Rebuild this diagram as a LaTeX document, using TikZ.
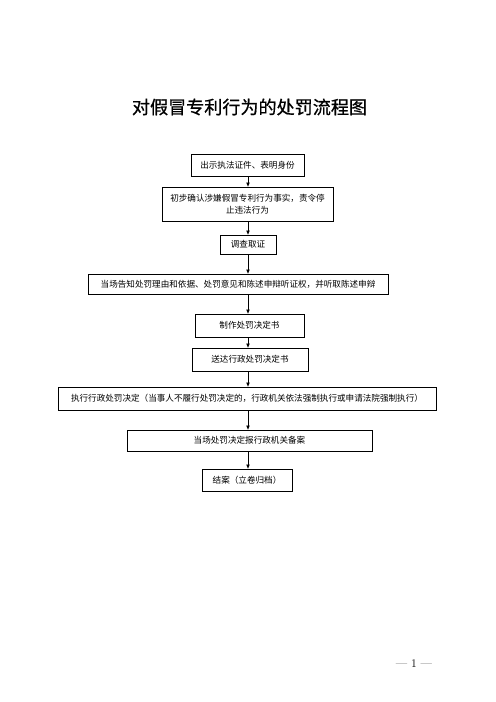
\documentclass[tikz,border=0pt]{standalone}
\usepackage{fontspec}
\newfontfamily\cjk{Noto Sans CJK SC}
\newfontfamily\cjktitle[FakeBold=0.6]{Noto Sans CJK SC}
\usetikzlibrary{arrows.meta}
\begin{document}
\begin{tikzpicture}[x=1.2pt,y=-1.2pt,
  box/.style={draw=black,line width=0.8pt,inner sep=1pt,font=\cjk\fontsize{10.3pt}{14pt}\selectfont,align=center},
  arr/.style={line width=0.8pt,-{Triangle[length=5pt,width=4pt]}}]
\useasboundingbox[fill=white] (0,0) rectangle (496,702);
\node[font=\cjktitle\fontsize{21.7pt}{26pt}\selectfont] (title) at (249.5,107) {对假冒专利行为的处罚流程图};
\coordinate (axis) at (248,0);
\node[box,minimum width=135.6pt,minimum height=26.4pt] (b1) at (247.5,165) {出示执法证件、表明身份};
\node[box,minimum width=205.2pt,minimum height=40.8pt,text width=190pt] (b2) at (247.5,204) {初步确认涉嫌假冒专利行为事实，责令停\\止违法行为};
\node[box,minimum width=67.2pt,minimum height=22.8pt] (b3) at (248,244.5) {调查取证};
\node[box,minimum width=360pt,minimum height=24pt] (b4) at (238,284) {当场告知处罚理由和依据、处罚意见和陈述申辩听证权，并听取陈述申辩};
\node[box,minimum width=130.8pt,minimum height=27.6pt] (b5) at (249.5,325.5) {制作处罚决定书};
\node[box,minimum width=139.2pt,minimum height=27.6pt] (b6) at (250,359.5) {送达行政处罚决定书};
\node[box,minimum width=453.6pt,minimum height=27.6pt] (b7) at (247,398.5) {执行行政处罚决定（当事人不履行处罚决定的，行政机关依法强制执行或申请法院强制执行）};
\node[box,minimum width=294pt,minimum height=25.2pt] (b8) at (249.5,440.5) {当场处罚决定报行政机关备案};
\node[box,minimum width=108pt,minimum height=26.4pt] (b9) at (247,480) {结案（立卷归档）};
\foreach \a/\b in {b1/b2,b2/b3,b3/b4,b4/b5,b5/b6,b6/b7,b7/b8,b8/b9}
  \draw[arr] (\a.south -| axis) -- (\b.north -| axis);
\node[font=\fontsize{14pt}{16pt}\selectfont] (page) at (414,664) {--- 1 ---};
\end{tikzpicture}
\end{document}
